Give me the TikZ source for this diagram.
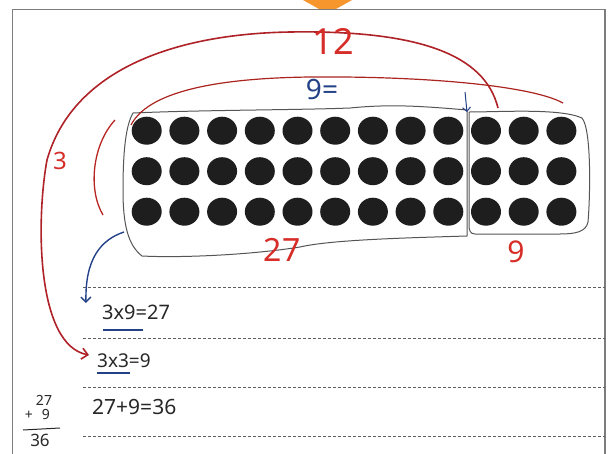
\documentclass[tikz,border=0pt]{standalone}
\usepackage{fontspec}
\newfontfamily\hand{Noto Sans}
\usetikzlibrary{arrows.meta}
\definecolor{redink}{RGB}{215,45,40}
\definecolor{darkred}{RGB}{175,35,40}
\definecolor{blueink}{RGB}{35,65,135}
\definecolor{pencil}{RGB}{85,85,85}
\definecolor{dotc}{RGB}{30,30,30}
\definecolor{orangetab}{RGB}{247,150,45}
\definecolor{framegray}{RGB}{125,125,125}
\definecolor{ink}{RGB}{40,40,40}
\tikzset{
  outline/.style={draw=pencil, line width=1pt, line join=round},
  redarc/.style={draw=darkred, line width=1.6pt},
  bluearc/.style={draw=blueink, line width=1.4pt},
  redbarb/.style={-{Straight Barb[length=6pt,width=11pt,line width=1.6pt]}},
  bluebarb/.style={-{Straight Barb[length=5pt,width=10pt,line width=1.4pt]}},
  ruled/.style={draw=ink!75, line width=1pt, dash pattern=on 3pt off 2pt},
  lbl/.style={inner sep=0pt, font=\hand, text height=0.72em, text depth=0pt},
  dot/.style={fill=dotc},
}
\begin{document}
\begin{tikzpicture}[x=1pt,y=-1pt]
\useasboundingbox (0,0) rectangle (611,453);
\fill[white] (0,0) rectangle (611,453);
% orange tab and frame
\fill[orangetab] (303,0) -- (352,0) -- (336,9) -- (319,9) -- cycle;
\draw[framegray, line width=1.5pt] (12.5,460) -- (12.5,9.5) -- (605,9.5) -- (605,460);

% ruled dashed lines
\foreach \yy in {287,338,387,436} \draw[ruled] (83,\yy) -- (605,\yy);

% dots
\foreach \r in {0,1,2}
  \foreach \c in {0,...,11}
    \fill[dot] ({146.7+37.7*\c},{130.7+40.5*\r}) ellipse [x radius=15pt, y radius=14pt];

% left box (27 dots)
\draw[outline] (133,113) .. controls (200,110) and (300,110) .. (350,108)
  .. controls (390,104) and (420,106) .. (467,110) -- (467,236)
  .. controls (400,238) and (330,240) .. (300,247)
  .. controls (250,255) and (180,258) .. (142,256)
  .. controls (128,245) and (123,225) .. (123,190)
  .. controls (123,150) and (126,125) .. (133,113) -- cycle;
% right box (9 dots)
\draw[outline] (469,112) .. controls (500,112) and (560,108) .. (582,118)
  .. controls (592,130) and (590,200) .. (588,222)
  .. controls (586,232) and (575,234) .. (560,234) -- (475,234)
  .. controls (470,234) and (469,230) .. (469,225) -- cycle;

% named ends
\coordinate (a12) at (498,108);
\coordinate (e12) at (89,355);
\coordinate (a9) at (131,125);
\coordinate (e9) at (563,103);
\coordinate (bs) at (124,232);
\coordinate (be) at (86,303);
\coordinate (ds) at (465,92);
\coordinate (de) at (467,112);

% red arcs
\draw[redarc, redbarb] (a12) .. controls (485,55) and (420,30) .. (290,32)
  .. controls (170,34) and (72,72) .. (47,160)
  .. controls (36,220) and (36,345) .. (e12);
\draw[draw=redink!80!black, line width=1.2pt] (a9) .. controls (150,88) and (230,78) .. (310,77)
  .. controls (420,76) and (530,85) .. (e9);
\draw[draw=redink!85!black, line width=1.3pt] (115,120) .. controls (92,145) and (88,190) .. (103,215);

% blue arrows
\draw[bluearc, bluebarb] (bs) .. controls (100,240) and (85,260) .. (be);
\draw[draw=blueink, line width=1pt, -{Straight Barb[length=4pt,width=8pt,line width=1pt]}] (ds) -- (de);

% labels
\node[lbl, text=redink, font=\hand\fontsize{36}{36}\selectfont] (t12) at (333,51) {12};
\node[lbl, text=blueink, font=\hand\fontsize{28}{28}\selectfont] (t9eq) at (322,96) {9=};
\node[lbl, text=redink, font=\hand\fontsize{24}{24}\selectfont] (t3) at (60,166) {3};
\node[lbl, text=redink, font=\hand\fontsize{32}{32}\selectfont] (t27) at (282,258) {27};
\node[lbl, text=redink, font=\hand\fontsize{30}{30}\selectfont] (t9) at (516,259) {9};

\node[lbl, text=ink, font=\hand\fontsize{20}{20}\selectfont, anchor=west] (eq1) at (102,316) {3x9=27};
\node[lbl, text=ink, font=\hand\fontsize{19}{19}\selectfont, anchor=west] (eq2) at (97,364) {3x3=9};
\node[lbl, text=ink, font=\hand\fontsize{21}{21}\selectfont, anchor=west] (eq3) at (92,411) {27+9=36};
\draw[blueink, line width=1.8pt] (103,330) -- (143,330);
\draw[blueink, line width=1.8pt] (97,373) -- (130,373);

% vertical sum
\node[lbl, text=ink, font=\hand\fontsize{14}{14}\selectfont] (v27) at (44,402) {27};
\node[lbl, text=ink, font=\hand\fontsize{14}{14}\selectfont] (vplus) at (29,416) {+};
\node[lbl, text=ink, font=\hand\fontsize{14}{14}\selectfont] (v9) at (46,416) {9};
\draw[ink, line width=1pt] (23,430) -- (60,428);
\node[lbl, text=ink, font=\hand\fontsize{17}{17}\selectfont] (v36) at (40,443) {36};
\end{tikzpicture}
\end{document}
